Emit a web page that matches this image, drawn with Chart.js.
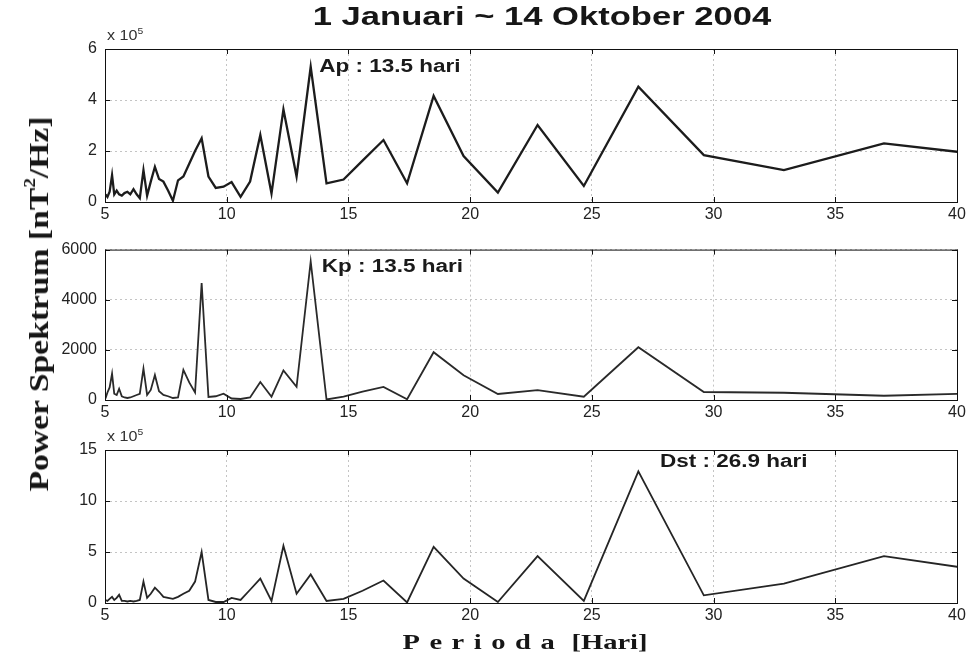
<!DOCTYPE html>
<html>
<head>
<meta charset="utf-8">
<script src="https://cdn.jsdelivr.net/npm/chart.js@4/dist/chart.umd.min.js"></script>
<style>
  body { margin:0; width:973px; height:659px; background:#fff; position:relative; overflow:hidden;
         font-family:"Liberation Sans", Arial, sans-serif; }
  canvas { position:absolute; left:0; }
  .txt { position:absolute; white-space:nowrap; color:#161616; }
  #title { left:542px; top:16px; font-weight:bold; font-size:26px;
           transform:translate(-50%,-50%) scaleX(1.33); }
  #ylab { font-family:"Liberation Serif","Times New Roman",serif; font-weight:bold; font-size:28px;
          left:39px; top:304px; transform:translate(-50%,-50%) rotate(-90deg) scaleX(1.2); }
  #ylab sup { font-size:16px; position:relative; top:-3px; }
  #xlab { font-family:"Liberation Serif","Times New Roman",serif; font-weight:bold; font-size:21px;
          left:525px; top:642px; transform:translate(-50%,-50%) scaleX(1.36); }
  #xlab .sp { letter-spacing:7px; }
  .mult { font-size:14px; color:#333; transform:scaleX(1.15); transform-origin:left center; }
  .mult sup { font-size:9px; }
</style>
</head>
<body>
<canvas id="cAp" width="973" height="232" style="top:0"></canvas>
<canvas id="cKp" width="973" height="196" style="top:232px"></canvas>
<canvas id="cDst" width="973" height="231" style="top:428px"></canvas>

<div class="txt" id="title">1 Januari ~ 14 Oktober 2004</div>
<div class="txt" id="ylab">Power Spektrum [nT<sup>2</sup>/Hz]</div>
<div class="txt" id="xlab"><span class="sp">Perioda</span> [Hari]</div>
<div class="txt mult" style="left:107px;top:26px">x 10<sup>5</sup></div>
<div class="txt mult" style="left:107px;top:427px">x 10<sup>5</sup></div>

<script>
// Period (days) of each spectral estimate
const periods = [5.02, 5.10, 5.19, 5.29, 5.38, 5.48, 5.58, 5.69, 5.80, 5.92,
                 6.04, 6.17, 6.30, 6.43, 6.58, 6.73, 6.88, 7.05, 7.22, 7.40,
                 7.59, 7.79, 8.00, 8.22, 8.46, 8.70, 8.97, 9.25, 9.55, 9.87,
                 10.20, 10.57, 10.96, 11.38, 11.84, 12.33, 12.87, 13.45, 14.10, 14.80,
                 15.58, 16.44, 17.41, 18.50, 19.73, 21.14, 22.77, 24.67, 26.91, 29.60,
                 32.89, 37.00, 42.29];

// Ap power spectrum (x 10^5 nT^2/Hz)
const apPower = [0.3, 0.2, 0.4, 1.05, 0.3, 0.45, 0.3, 0.25, 0.35, 0.4,
                 0.3, 0.5, 0.3, 0.15, 1.25, 0.25, 0.8, 1.38, 0.9, 0.8,
                 0.45, 0.05, 0.85, 1.0, 1.5, 2.0, 2.5, 1.0, 0.55, 0.6,
                 0.78, 0.2, 0.8, 2.63, 0.33, 3.63, 1.0, 5.3, 0.73, 0.88,
                 1.62, 2.43, 0.73, 4.16, 1.8, 0.37, 3.02, 0.63, 4.52, 1.84,
                 1.25, 2.3, 1.72];

// Kp power spectrum (nT^2/Hz)
const kpPower = [65, 300, 500, 1050, 250, 200, 450, 150, 100, 80,
                 100, 150, 200, 250, 1250, 200, 400, 1000, 350, 200,
                 150, 80, 100, 1200, 700, 300, 4670, 120, 150, 250,
                 60, 40, 100, 720, 130, 1180, 525, 5526, 20, 130,
                 330, 525, 30, 1907, 987, 240, 395, 130, 2105, 320,
                 290, 170, 300];

// Dst power spectrum (x 10^5 nT^2/Hz)
const dstPower = [0.3, 0.2, 0.4, 0.6, 0.3, 0.5, 0.8, 0.2, 0.2, 0.15,
                  0.2, 0.15, 0.2, 0.3, 2.1, 0.5, 0.9, 1.5, 1.1, 0.6,
                  0.5, 0.4, 0.6, 0.9, 1.2, 2.1, 5.0, 0.3, 0.1, 0.1,
                  0.5, 0.3, 1.3, 2.4, 0.2, 5.6, 0.9, 2.8, 0.2, 0.4,
                  1.2, 2.2, 0.05, 5.5, 2.4, 0.1, 4.6, 0.2, 12.9, 0.75,
                  1.9, 4.6, 2.75];

const xTicks = [5, 10, 15, 20, 25, 30, 35, 40];
const apTicks = [0, 2, 4, 6];
const kpTicks = [0, 2000, 4000, 6000];
const dstTicks = [0, 5, 10, 15];

// Dominant-period labels: text, anchor period, anchor power
const apPeak = { text: 'Ap : 13.5 hari', x: 13.8, y: 5.3 };
const kpPeak = { text: 'Kp : 13.5 hari', x: 13.9, y: 5300 };
const dstPeak = { text: 'Dst : 26.9 hari', x: 27.8, y: 13.8 };

const TICK_FONT = { family: '"Liberation Sans", Arial, sans-serif', size: 16 };

// Box around the plot area with short inward tick marks
const framePlugin = {
  id: 'frame',
  afterDraw(chart) {
    const { ctx, chartArea: a, scales } = chart;
    ctx.save();
    ctx.strokeStyle = '#111';
    ctx.lineWidth = 1;
    ctx.strokeRect(a.left + 0.5, a.top + 0.5, a.right - a.left, a.bottom - a.top);
    ctx.beginPath();
    scales.x.ticks.forEach(t => {
      const px = Math.round(scales.x.getPixelForValue(t.value)) + 0.5;
      ctx.moveTo(px, a.bottom); ctx.lineTo(px, a.bottom - 5);
      ctx.moveTo(px, a.top); ctx.lineTo(px, a.top + 5);
    });
    scales.y.ticks.forEach(t => {
      const py = Math.round(scales.y.getPixelForValue(t.value)) + 0.5;
      ctx.moveTo(a.left, py); ctx.lineTo(a.left + 5, py);
      ctx.moveTo(a.right, py); ctx.lineTo(a.right - 5, py);
    });
    ctx.stroke();
    ctx.restore();
  }
};

// Peak label drawn at its data position (bold, slightly widened)
const peakLabelPlugin = {
  id: 'peakLabel',
  afterDatasetsDraw(chart, args, opts) {
    if (!opts.text) return;
    const { ctx, scales } = chart;
    const px = scales.x.getPixelForValue(opts.x);
    const py = scales.y.getPixelForValue(opts.y);
    ctx.save();
    ctx.translate(px, py);
    ctx.scale(1.25, 1);
    ctx.font = 'bold 18px "Liberation Sans", Arial, sans-serif';
    ctx.fillStyle = '#1a1a1a';
    ctx.textBaseline = 'middle';
    ctx.textAlign = 'left';
    ctx.fillText(opts.text, 0, 0);
    ctx.restore();
  }
};

function makePanel(id, values, yTicks, peak, padTop, plotBottom, canvasH, lineColor, lineW) {
  const yMax = yTicks[yTicks.length - 1];
  return new Chart(document.getElementById(id), {
    type: 'line',
    data: {
      datasets: [{
        data: periods.map((p, i) => ({ x: p, y: values[i] })),
        borderColor: lineColor,
        borderWidth: lineW,
        pointRadius: 0,
        tension: 0,
        fill: false
      }]
    },
    options: {
      responsive: false,
      animation: false,
      devicePixelRatio: 1,
      layout: { padding: { left: 0, right: 16, top: padTop, bottom: 0 } },
      plugins: { legend: { display: false }, tooltip: { enabled: false }, peakLabel: peak },
      scales: {
        x: {
          type: 'linear', min: 5, max: 40,
          afterBuildTicks: s => { s.ticks = xTicks.map(v => ({ value: v })); },
          afterFit: s => { s.height = canvasH - plotBottom; },
          ticks: { color: '#222', padding: 3, maxRotation: 0, font: TICK_FONT,
                   callback: v => String(v) },
          grid: { color: '#c4c4c4', lineWidth: 1, drawTicks: false },
          border: { display: false, dash: [2, 3] }
        },
        y: {
          type: 'linear', min: 0, max: yMax,
          afterBuildTicks: s => { s.ticks = yTicks.map(v => ({ value: v })); },
          afterFit: s => { s.width = 105; },
          ticks: { color: '#222', padding: 8, font: TICK_FONT,
                   callback: v => String(v) },
          grid: { color: '#c4c4c4', lineWidth: 1, drawTicks: false },
          border: { display: false, dash: [2, 3] }
        }
      }
    },
    plugins: [framePlugin, peakLabelPlugin]
  });
}

makePanel('cAp', apPower, apTicks, apPeak, 49, 202, 232, '#1c1c1c', 2.3);
makePanel('cKp', kpPower, kpTicks, kpPeak, 16, 168, 196, '#2a2a2a', 1.8);
makePanel('cDst', dstPower, dstTicks, dstPeak, 22, 175, 231, '#252525', 1.8);
</script>
</body>
</html>
